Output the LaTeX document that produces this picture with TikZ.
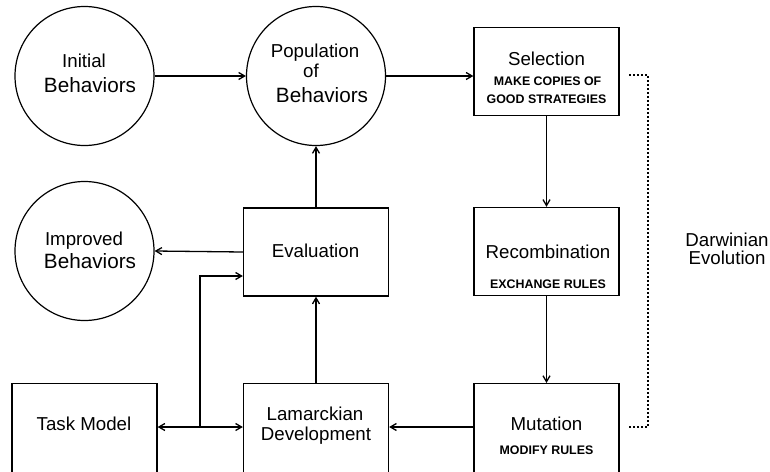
\documentclass[tikz,border=0pt]{standalone}
\usepackage{fontspec}
\setmainfont{Liberation Sans}
\usetikzlibrary{arrows.meta}
\tikzset{barb/.tip={Straight Barb[length=6pt,width=7pt]}}
\begin{document}
\begin{tikzpicture}[x=1pt,y=-1pt,
  circ/.style={circle,draw,line width=1.2pt,minimum size=139pt,inner sep=0pt},
  box/.style={draw,line width=1.3pt,minimum width=145pt,minimum height=88pt,inner sep=0pt},
  lowbox/.style={box,minimum height=96pt,anchor=north},
  big/.style={font=\fontsize{18.7}{20}\selectfont,anchor=base,inner sep=0pt},
  huge/.style={font=\fontsize{20.7}{22}\selectfont,anchor=base,inner sep=0pt},
  caps/.style={font=\fontsize{12.4}{14}\selectfont\bfseries,anchor=base,inner sep=0pt},
  arr/.style={line width=1.3pt,-barb},
  twoway/.style={line width=1.3pt,barb-barb},
  dotline/.style={line width=1.6pt,dash pattern=on 1.6pt off 2.4pt},
  ]
\useasboundingbox (0,0) rectangle (770,471);
\clip (0,0) rectangle (770,471);

% circles
\node[circ] (init) at (84.5,76) {};
\node[circ] (pop)  at (316,76) {};
\node[circ] (imp)  at (84.5,251) {};

% boxes (bottom row runs off the lower edge)
\node[box] (sel)  at (546.5,71.5) {};
\node[box] (rec)  at (546.5,251.5) {};
\node[box] (eval) at (316,252) {};
\node[lowbox] (task) at (84.5,383) {};
\node[lowbox] (lam)  at (316,383) {};
\node[lowbox] (mut)  at (546.5,383) {};

% texts
\node[big]  (initA) at (84,67) {Initial};
\node[huge] (initB) at (90,92) {Behaviors};
\node[big]  (popA) at (315,57) {Population};
\node[big]  (popB) at (311,77) {of};
\node[huge] (popC) at (322,102) {Behaviors};
\node[big]  (impA) at (84,245) {Improved};
\node[huge] (impB) at (90,268) {Behaviors};
\node[big]  (selA) at (546.5,65) {Selection};
\node[caps] (selB) at (547.5,85) {MAKE COPIES OF};
\node[caps] (selC) at (546.5,103) {GOOD STRATEGIES};
\node[big]  (recA) at (548,258) {Recombination};
\node[caps] (recB) at (548,288) {EXCHANGE RULES};
\node[big]  (evalA) at (315.5,257) {Evaluation};
\node[big]  (lamA) at (315,420) {Lamarckian};
\node[big]  (lamB) at (316,440) {Development};
\node[big]  (taskA) at (84,430) {Task Model};
\node[big]  (mutA) at (546.5,430) {Mutation};
\node[caps] (mutB) at (546.5,454) {MODIFY RULES};
\node[big]  (darA) at (727,246) {Darwinian};
\node[big]  (darB) at (727,264) {Evolution};

% connectors
\coordinate (tj) at (200,427);
\coordinate (evin) at ([yshift=-24pt]eval.west);
\draw[arr] (init.east) -- (pop.west);
\draw[arr] (pop.east) -- (pop.east -| sel.west);
\draw[arr] (sel.south) -- (rec.north);
\draw[arr] (rec.south) -- (mut.north);
\draw[arr] (mut.west |- tj) -- (lam.east |- tj);
\draw[arr] (lam.north) -- (eval.south);
\draw[arr] (eval.north) -- (pop.south);
\draw[arr] (eval.west) -- (imp.east);
\draw[twoway] (task.east |- tj) -- (lam.west |- tj);
\draw[arr] (tj) |- (evin);

% Darwinian bracket
\coordinate (dA) at (629,75);
\coordinate (dB) at (648,75);
\coordinate (dC) at (648,427);
\coordinate (dD) at (629,427);
\draw[dotline] (dA) -- (dB) -- (dC) -- (dD);
\end{tikzpicture}
\end{document}
